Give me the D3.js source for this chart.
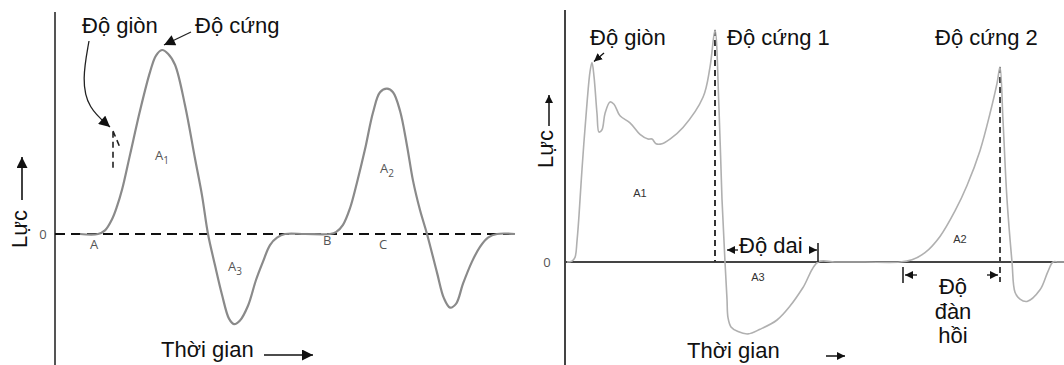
<!DOCTYPE html>
<html>
<head>
<meta charset="utf-8">
<script src="https://cdn.jsdelivr.net/npm/d3@7"></script>
<style>
  body { margin: 0; background: #fff; }
  svg { display: block; font-family: "Liberation Sans", Arial, sans-serif; }
  .lbl { font-size: 22px; fill: #111; }
  .area { font-family: "Open Sans", "DejaVu Sans", sans-serif; font-size: 13px; fill: #555; }
  .areaR { font-family: "Liberation Sans", Arial, sans-serif; font-size: 11px; fill: #333; }
</style>
</head>
<body>
<svg id="chart" width="1064" height="365"></svg>
<script>
// left panel: ideal two-bite TPA curve (time units, force in % of first peak)
const leftTime = [2.5, 4.3, 5.0, 5.7, 6.2, 6.7, 7.5, 8.5, 9.5, 10.1, 10.7, 11.3, 12.0, 13.0, 14.0, 14.7, 15.3,
  16.0, 16.7, 17.4, 17.9, 18.5, 19.3, 20.1, 20.8, 21.5, 22.2, 23.0, 25.0, 27.5, 28.1, 28.8, 29.5, 30.2, 31.0,
  31.8, 32.5, 33.2, 33.8, 34.5, 35.2, 35.8, 36.5, 37.2, 38.2, 38.9, 39.5, 40.1, 40.8, 41.7, 42.5, 43.3, 44.2, 46.0];
const leftForce = [0, 0, 2, 8, 15, 24, 43, 67, 88, 97, 100, 98, 92, 70, 41, 21, 0,
  -17, -33, -46, -49, -47, -39, -25, -15, -6, -2, 0, 0, 0, 1, 5, 14, 28, 46,
  66, 77, 79, 77, 67, 48, 29, 13, 0, -21, -35, -40, -38, -27, -15, -7, -2, 0, 0];

// right panel: measured curve
const rightTime = [0.2, 0.7, 1.0, 1.2, 1.4, 1.7, 2.1, 2.5, 2.7, 2.9, 3.2, 3.4, 3.7, 4.0, 4.5, 4.9, 5.5, 6.5, 7.5,
  8.3, 8.7, 9.1, 9.7, 10.5, 11.8, 13.8, 14.5, 15.0, 15.4, 15.7, 16.0, 16.2, 16.3, 16.6, 17.3, 18.3, 19.5,
  21.2, 22.5, 23.8, 25.3, 27.0, 30.0, 33.5, 34.7, 36.0, 37.5, 39.0, 40.2, 41.5, 42.5, 43.2, 43.5, 43.8, 44.2, 44.7,
  45.0, 45.5, 46.2, 47.5, 48.3, 48.8, 49.3, 49.9];
const rightForce = [0, 0.4, 2, 9, 20, 40, 63, 82, 86, 80, 64, 56, 57, 64, 69, 68, 63, 60, 55,
  53, 53, 51, 51, 53, 58, 71, 84, 100, 66, 27, 0, -16, -24, -28, -30, -31, -29,
  -25, -19, -11, 0, 0, 0, 0, 1, 4, 11, 22, 33, 48, 64, 77, 84, 61, 27, 0,
  -13, -16, -17, -12, -4, 0, 0, 0];

// text labels of the areas (time, force)
const leftAreas = [
  { name: "A", sub: "1", t: 10.0, f: 40 },
  { name: "A", sub: "2", t: 32.5, f: 33 },
  { name: "A", sub: "3", t: 17.3, f: -20 },
  { name: "A", sub: "", t: 3.5, f: -8 },
  { name: "B", sub: "", t: 26.8, f: -6 },
  { name: "C", sub: "", t: 32.4, f: -8 }
];
const rightAreas = [
  { name: "A1", t: 7.5, f: 28 },
  { name: "A3", t: 19.3, f: -8 },
  { name: "A2", t: 39.5, f: 8 }
];

const svg = d3.select("#chart");

const defs = svg.append("defs");
function marker(id, w, h) {
  defs.append("marker")
    .attr("id", id)
    .attr("viewBox", "0 0 10 10")
    .attr("refX", 10).attr("refY", 5)
    .attr("markerUnits", "userSpaceOnUse")
    .attr("markerWidth", w).attr("markerHeight", h)
    .attr("orient", "auto")
    .append("path")
    .attr("d", "M0,0L10,5L0,10Z")
    .attr("fill", "#111");
}
marker("big", 12, 11);
marker("small", 8, 8);

// ---------- left panel ----------
const xL = d3.scaleLinear().domain([0, 46]).range([55, 515]);
const yL = d3.scaleLinear().domain([0, 100]).range([234, 50]);
const gL = svg.append("g");

gL.append("line")
  .attr("x1", xL(0)).attr("x2", xL(0))
  .attr("y1", 12).attr("y2", 365)
  .attr("stroke", "#555").attr("stroke-width", 2);

gL.append("line")
  .attr("x1", xL(0)).attr("x2", xL(46))
  .attr("y1", yL(0)).attr("y2", yL(0))
  .attr("stroke", "#111").attr("stroke-width", 2.2)
  .attr("stroke-dasharray", "10,6");

const lineL = d3.line()
  .x(i => xL(leftTime[i]))
  .y(i => yL(leftForce[i]))
  .curve(d3.curveCatmullRom.alpha(0.5));

gL.append("path")
  .attr("d", lineL(d3.range(leftTime.length)))
  .attr("fill", "none")
  .attr("stroke", "#8a8a8a")
  .attr("stroke-width", 2.2);

gL.append("text").attr("class", "area")
  .attr("x", xL(0) - 12).attr("y", yL(0) + 5)
  .attr("text-anchor", "middle").text("0");

let al = gL.selectAll("text.a").data(leftAreas).join("text")
  .attr("class", "area a")
  .attr("x", d => xL(d.t)).attr("y", d => yL(d.f))
  .attr("text-anchor", "start");
al.append("tspan").text(d => d.name);
al.append("tspan").attr("dy", 4).attr("font-size", 10).text(d => d.sub);

// brittleness trace (dashed break)
gL.append("path")
  .attr("d", `M${xL(5.8)},${yL(36)}L${xL(5.8)},${yL(56)}M${xL(5.8)},${yL(56)}L${xL(6.5)},${yL(47)}`)
  .attr("fill", "none").attr("stroke", "#222")
  .attr("stroke-width", 1.6).attr("stroke-dasharray", "6,4");

gL.append("text").attr("class", "lbl").attr("font-size", 23)
  .attr("x", 82).attr("y", 33).text("Độ giòn");
gL.append("text").attr("class", "lbl").attr("font-size", 23)
  .attr("x", 195).attr("y", 33).text("Độ cứng");

gL.append("path")
  .attr("d", d3.line().curve(d3.curveBasis)([[89, 41], [82, 80], [88, 108], [110, 127]]))
  .attr("fill", "none").attr("stroke", "#222").attr("stroke-width", 1.3)
  .attr("marker-end", "url(#big)");

gL.append("line")
  .attr("x1", 191).attr("y1", 32).attr("x2", xL(10.9)).attr("y2", yL(100) - 5)
  .attr("stroke", "#222").attr("stroke-width", 1.3)
  .attr("marker-end", "url(#big)");

gL.append("text").attr("class", "lbl").attr("font-size", 23)
  .attr("transform", "translate(27,248) rotate(-90)").text("Lực");
gL.append("line")
  .attr("x1", 22).attr("y1", 200).attr("x2", 22).attr("y2", 157)
  .attr("stroke", "#111").attr("stroke-width", 1.6)
  .attr("marker-end", "url(#big)");

gL.append("text").attr("class", "lbl").attr("font-size", 24)
  .attr("x", 161).attr("y", 357).text("Thời gian");
gL.append("line")
  .attr("x1", 264).attr("y1", 355).attr("x2", 313).attr("y2", 355)
  .attr("stroke", "#111").attr("stroke-width", 1.6)
  .attr("marker-end", "url(#big)");

// ---------- right panel ----------
const xR = d3.scaleLinear().domain([0, 49.9]).range([565, 1064]);
const yR = d3.scaleLinear().domain([0, 100]).range([262, 30]);
const gR = svg.append("g");

gR.append("line")
  .attr("x1", xR(0)).attr("x2", xR(0))
  .attr("y1", 10).attr("y2", 365)
  .attr("stroke", "#444").attr("stroke-width", 2);
gR.append("line")
  .attr("x1", xR(0)).attr("x2", xR(49.9))
  .attr("y1", yR(0)).attr("y2", yR(0))
  .attr("stroke", "#444").attr("stroke-width", 2);

// peak markers
const peak1 = 27, peak2 = 52;
gR.append("line")
  .attr("x1", xR(rightTime[peak1])).attr("x2", xR(rightTime[peak1]))
  .attr("y1", yR(rightForce[peak1])).attr("y2", yR(0))
  .attr("stroke", "#333").attr("stroke-width", 2).attr("stroke-dasharray", "6,4");
gR.append("line")
  .attr("x1", xR(rightTime[peak2])).attr("x2", xR(rightTime[peak2]))
  .attr("y1", yR(rightForce[peak2])).attr("y2", yR(0) + 20)
  .attr("stroke", "#444").attr("stroke-width", 2).attr("stroke-dasharray", "6,4");

const lineR = d3.line()
  .x(i => xR(rightTime[i]))
  .y(i => yR(rightForce[i]))
  .curve(d3.curveCatmullRom.alpha(0.5));

gR.append("path")
  .attr("d", lineR(d3.range(rightTime.length)))
  .attr("fill", "none")
  .attr("stroke", "#b0b0b0")
  .attr("stroke-width", 1.6);

gR.append("text").attr("class", "area").attr("font-size", 15).attr("fill", "#444")
  .attr("x", xR(0) - 18).attr("y", yR(0) + 5)
  .attr("text-anchor", "middle").text("0");

gR.selectAll("text.a").data(rightAreas).join("text")
  .attr("class", "areaR a")
  .attr("x", d => xR(d.t)).attr("y", d => yR(d.f))
  .attr("text-anchor", "middle")
  .text(d => d.name);

gR.append("text").attr("class", "lbl").attr("x", 590).attr("y", 45).text("Độ giòn");
gR.append("text").attr("class", "lbl").attr("x", 727).attr("y", 45).text("Độ cứng 1");
gR.append("text").attr("class", "lbl").attr("x", 935).attr("y", 45).text("Độ cứng 2");

gR.append("line")
  .attr("x1", 604).attr("y1", 53).attr("x2", xR(rightTime[8]) + 2).attr("y2", yR(rightForce[8]) - 1)
  .attr("stroke", "#111").attr("stroke-width", 1.3)
  .attr("marker-end", "url(#small)");

gR.append("text").attr("class", "lbl").attr("font-size", 20)
  .attr("transform", "translate(553,168) rotate(-90)").text("Lực");
gR.append("line")
  .attr("x1", 549).attr("y1", 126).attr("x2", 549).attr("y2", 95)
  .attr("stroke", "#111").attr("stroke-width", 1.5)
  .attr("marker-end", "url(#small)");

gR.append("text").attr("class", "lbl").attr("font-size", 22)
  .attr("x", 687).attr("y", 358).text("Thời gian");
gR.append("line")
  .attr("x1", 826).attr("y1", 356).attr("x2", 845).attr("y2", 356)
  .attr("stroke", "#111").attr("stroke-width", 1.5)
  .attr("marker-end", "url(#small)");

// Độ dai bracket
const dai0 = rightTime[30], dai1 = rightTime[40];
gR.append("text").attr("class", "lbl").attr("x", 739).attr("y", 253).text("Độ dai");
gR.append("line")
  .attr("x1", xR(dai0) + 13).attr("y1", 250).attr("x2", xR(dai0) + 2).attr("y2", 250)
  .attr("stroke", "#111").attr("stroke-width", 1.3).attr("marker-end", "url(#small)");
gR.append("line")
  .attr("x1", xR(dai1) - 9).attr("y1", 250).attr("x2", xR(dai1) - 1).attr("y2", 250)
  .attr("stroke", "#111").attr("stroke-width", 1.3).attr("marker-end", "url(#small)");
gR.append("line")
  .attr("x1", xR(dai1)).attr("x2", xR(dai1))
  .attr("y1", yR(0) - 19).attr("y2", yR(0))
  .attr("stroke", "#222").attr("stroke-width", 1.6);

// Độ đàn hồi bracket
const el0 = rightTime[43], el1 = rightTime[peak2];
gR.append("line")
  .attr("x1", xR(el0) + 3).attr("x2", xR(el0) + 3)
  .attr("y1", yR(0) + 5).attr("y2", yR(0) + 21)
  .attr("stroke", "#222").attr("stroke-width", 1.6);
gR.append("line")
  .attr("x1", xR(el0) + 17).attr("y1", 275).attr("x2", xR(el0) + 5).attr("y2", 275)
  .attr("stroke", "#111").attr("stroke-width", 1.3).attr("marker-end", "url(#small)");
gR.append("line")
  .attr("x1", xR(el1) - 13).attr("y1", 275).attr("x2", xR(el1) - 2).attr("y2", 275)
  .attr("stroke", "#111").attr("stroke-width", 1.3).attr("marker-end", "url(#small)");
const elText = gR.append("text").attr("class", "lbl").attr("text-anchor", "middle");
["Độ", "đàn", "hồi"].forEach((w, i) => {
  elText.append("tspan").attr("x", 953).attr("y", 294 + i * 24.5).text(w);
});
</script>
</body>
</html>
